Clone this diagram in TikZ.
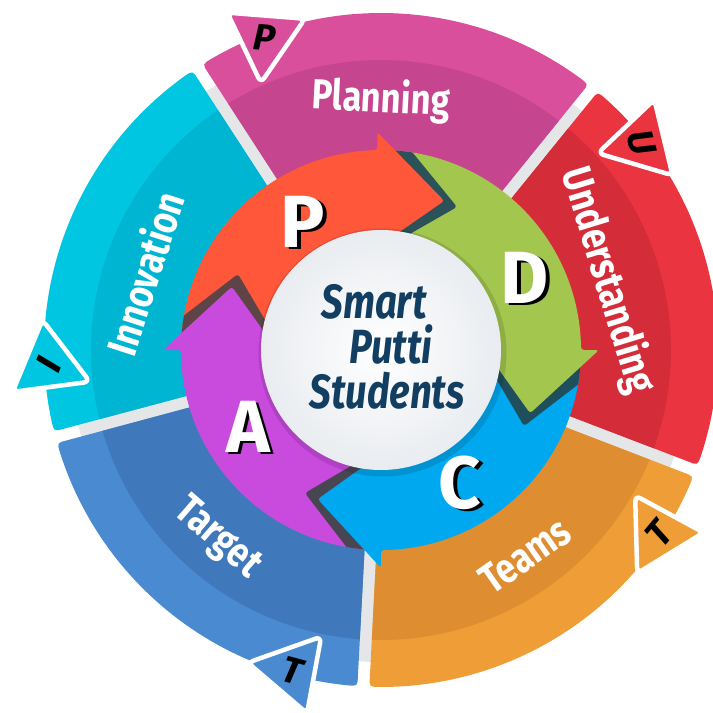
\documentclass[tikz,border=0pt]{standalone}
\usepackage{fontspec}
\setmainfont{Fira Sans}
\newfontfamily\segfont{Fira Sans}[FakeStretch=0.82]
\newfontfamily\ctrfont{Fira Sans}[FakeStretch=0.8]
\usetikzlibrary{calc}

\definecolor{plO}{HTML}{DA4F9C}\definecolor{plI}{HTML}{C5458E}
\definecolor{unO}{HTML}{EA3440}\definecolor{unI}{HTML}{D52C3A}
\definecolor{teO}{HTML}{EF9D36}\definecolor{teI}{HTML}{DE8D30}
\definecolor{taO}{HTML}{4A8AD1}\definecolor{taI}{HTML}{3F79BB}
\definecolor{inO}{HTML}{00C6E1}\definecolor{inI}{HTML}{00B5D2}
\definecolor{grayring}{HTML}{E5E6E8}
\definecolor{arP}{HTML}{FE573A}\definecolor{arD}{HTML}{A3C64F}
\definecolor{arC}{HTML}{00A8EF}\definecolor{arA}{HTML}{C94BDE}
\definecolor{shP}{HTML}{2B5258}\definecolor{shD}{HTML}{1F4F5C}
\definecolor{shC}{HTML}{474652}\definecolor{shA}{HTML}{5E4447}
\definecolor{ctrc}{HTML}{E9ECF0}\definecolor{navy}{HTML}{123E62}

\newcommand\segfill[4]{% start, end, outer fill, inner fill
  \fill[#3] (#1+1.9:180) -- (#1+1.05:327) .. controls (#1+1.0:337) .. (#1+2.7:337)
    arc[start angle=#1+2.7, end angle=#2-2.7, radius=337]
    .. controls (#2-1.0:337) .. (#2-1.05:327) -- (#2-1.9:180) -- cycle;
  \fill[#4] (#1+1.9:180) -- (#1+1.2:290)
    arc[start angle=#1+1.2, end angle=#2-1.2, radius=290]
    -- (#2-1.9:180) -- cycle;}

\newcommand\segtext[5]{% name, angle, radius, rotation, text
  \node[segtxt, rotate=#4] (#1) at (#2:#3) {#5};}

\newcommand\tabtri[5]{% name, angle, colour, letter, letter rotation
  \begin{scope}[shift={(#2:333)}]
    \filldraw[tabshape, fill=#3] (#2+155:45) -- (#2+35:45) -- (#2+275:45) -- cycle;
    \node[tabletter, rotate=#5] (#1) at (0,0) {#4};
  \end{scope}}

\newcommand\arrowbody[3]{% from, to, colour
  \fill[#3] (#1:200) arc[start angle=#1, end angle=#2, radius=200]
    -- (#2:104) arc[start angle=#2, end angle=#1, radius=104] -- cycle;}

\newcommand\headpath[2]{(#1+1:104) -- (#1+1:200) -- (#1:200) -- (#1:218) -- (#2:162) -- (#1:104) -- cycle}

\newcommand\arrowhead[4]{% barb angle, tip angle, colour, shadow colour
  \begin{scope}
    \clip (0,0) circle (200);
    \fill[#4, rotate=-5, rounded corners=3] \headpath{#1}{#2};
  \end{scope}
  \fill[#3, rounded corners=3] \headpath{#1}{#2};}

\newcommand\pdcaletter[4]{% name, x, y, letter
  \node[bigletter, text=black] (#1s) at (#2+3.5,#3-1.5) {#4};
  \node[bigletter] (#1) at (#2,#3) {#4};}

\tikzset{
  segtxt/.style={text=white, inner sep=0, font=\segfont\bfseries\fontsize{42}{42}\selectfont},
  tabshape/.style={draw=white, line width=4.5, rounded corners=6, line join=round},
  tabletter/.style={inner sep=0, text=black, font=\bfseries\itshape\fontsize{37}{37}\selectfont},
  bigletter/.style={inner sep=0, text=white, font=\bfseries\fontsize{74}{74}\selectfont},
  ctrtxt/.style={inner sep=0, anchor=base, text=navy, font=\ctrfont\bfseries\itshape\fontsize{48}{48}\selectfont}
}

\begin{document}
\begin{tikzpicture}[x=1pt,y=1pt]
\useasboundingbox (-381,-363) rectangle (332,350);

% grey backing disk
\fill[grayring] (0,0) circle (312);

% outer segments
\segfill{51}{123}{plO}{plI}
\segfill{-21}{51}{unO}{unI}
\segfill{-93}{-21}{teO}{teI}
\segfill{195}{267}{taO}{taI}
\segfill{123}{195}{inO}{inI}

% segment labels
\segtext{lPlan}{90}{250}{-3}{Planning}
\segtext{lUnd}{17}{237}{-73}{Understanding}
\segtext{lTeam}{-55}{251}{35}{Teams}
\segtext{lTarg}{229}{250}{-41}{Target}
\segtext{lInno}{162}{249}{72}{Innovation}

% tabs
\tabtri{tP}{110.5}{plO}{P}{-5}
\tabtri{tU}{38.5}{unO}{U}{-75}
\tabtri{tT}{-33.5}{teO}{T}{50}
\tabtri{tTa}{254.5}{taO}{T}{-15}
\tabtri{tI}{182.5}{inO}{I}{67}

% PDCA ring bodies
\arrowbody{91}{180}{arP}
\arrowbody{0}{91}{arD}
\arrowbody{-90}{0}{arC}
\arrowbody{180}{270}{arA}

% arrow heads
\arrowhead{91}{67}{arP}{shP}
\arrowhead{0}{-23}{arD}{shD}
\arrowhead{-90}{-113}{arC}{shC}
\arrowhead{180}{157}{arA}{shA}

% centre disk
\fill[black, opacity=.12] (1.5,-2.5) circle (124);
\shade[inner color=white, outer color=ctrc] (0,0) circle (120);

% centre title
\node[ctrtxt] (t1) at (-7,32) {Smart};
\node[ctrtxt] (t2) at (10,-13) {Putti};
\node[ctrtxt] (t3) at (6,-58) {Students};

% PDCA letters
\pdcaletter{lP}{-78}{128}{P}
\pdcaletter{lD}{144}{72}{D}
\pdcaletter{lC}{79}{-133}{C}
\pdcaletter{lA}{-133}{-77}{A}
\end{tikzpicture}
\end{document}
